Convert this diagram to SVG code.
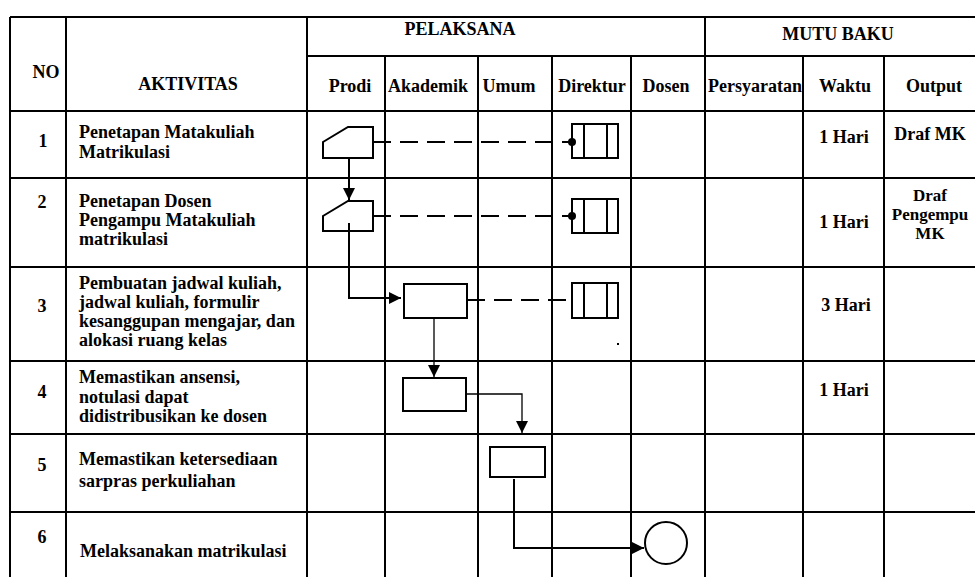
<svg xmlns="http://www.w3.org/2000/svg" width="975" height="577" viewBox="0 0 975 577">
<defs>
<style>
.g{stroke:#000;stroke-width:2;fill:none}
.t{font-family:"Liberation Serif","Times New Roman",serif;font-weight:bold;font-size:18px;fill:#000}
.c{text-anchor:middle}
.sm{font-size:17px}
.s{stroke:#000;stroke-width:2;fill:#fff}
.k{stroke:#000;stroke-width:2;fill:none}
.n{stroke:#000;stroke-width:1.3;fill:none}
.d{stroke:#000;stroke-width:2;fill:none;stroke-dasharray:18 9}
</style>
<marker id="ah" markerWidth="12" markerHeight="12" refX="12" refY="6" orient="auto" markerUnits="userSpaceOnUse"><path d="M0,0 L12,6 L0,12 z" fill="#000"/></marker>
</defs>
<rect width="975" height="577" fill="#fff"/>
<g id="table" class="g">
<path d="M10,17 H975 M307,56 H975 M10,111 H975 M10,178 H975 M10,267 H975 M10,361 H975 M10,434 H975 M10,512 H975"/>
<path d="M10,17 V577 M66,17 V577 M307,17 V577 M705,17 V577 M385,56 V577 M478,56 V577 M552,56 V577 M631,56 V577 M803,56 V577 M884,56 V577"/>
</g>
<g id="headers" class="t">
<text x="46" y="78" class="c">NO</text>
<text x="188" y="90" class="c">AKTIVITAS</text>
<text x="460" y="35" class="c">PELAKSANA</text>
<text x="838" y="40" class="c">MUTU BAKU</text>
<text x="350" y="92" class="c">Prodi</text>
<text x="428" y="92" class="c">Akademik</text>
<text x="509" y="92" class="c">Umum</text>
<text x="592" y="92" class="c">Direktur</text>
<text x="666" y="92" class="c">Dosen</text>
<text x="755" y="92" class="c">Persyaratan</text>
<text x="845" y="92" class="c">Waktu</text>
<text x="934" y="92" class="c">Output</text>
</g>
<g id="row1" class="t">
<text x="43" y="147" class="c">1</text>
<text x="79" y="138">Penetapan Matakuliah</text>
<text x="79" y="158">Matrikulasi</text>
<text x="844" y="143" class="c">1 Hari</text>
<text x="930" y="140" class="c">Draf MK</text>
</g>
<g id="row2" class="t">
<text x="42" y="208" class="c">2</text>
<text x="79" y="207">Penetapan Dosen</text>
<text x="79" y="226">Pengampu Matakuliah</text>
<text x="79" y="245">matrikulasi</text>
<text x="844" y="228" class="c">1 Hari</text>
<text x="930" y="201" class="c sm">Draf</text>
<text x="930" y="220" class="c sm">Pengempu</text>
<text x="930" y="239" class="c sm">MK</text>
</g>
<g id="row3" class="t">
<text x="42" y="312" class="c">3</text>
<text x="79" y="289">Pembuatan jadwal kuliah,</text>
<text x="79" y="308">jadwal kuliah, formulir</text>
<text x="79" y="327">kesanggupan mengajar, dan</text>
<text x="79" y="346">alokasi ruang kelas</text>
<text x="846" y="311" class="c">3 Hari</text>
</g>
<g id="row4" class="t">
<text x="42" y="398" class="c">4</text>
<text x="79" y="383">Memastikan ansensi,</text>
<text x="79" y="403">notulasi dapat</text>
<text x="79" y="422">didistribusikan ke dosen</text>
<text x="844" y="396" class="c">1 Hari</text>
</g>
<g id="row5" class="t">
<text x="42" y="471" class="c">5</text>
<text x="79" y="465">Memastikan ketersediaan</text>
<text x="79" y="487">sarpras perkuliahan</text>
</g>
<g id="row6" class="t">
<text x="42" y="543" class="c">6</text>
<text x="80" y="557">Melaksanakan matrikulasi</text>
</g>
<g id="connectors">
<path class="d" d="M373,142 H572"/>
<path class="d" d="M373,216 H572"/>
<path class="d" d="M467,300 H572"/>
<circle cx="572" cy="142" r="4" fill="#000"/>
<circle cx="572" cy="216" r="4" fill="#000"/>
<path class="k" d="M349,158 V200" marker-end="url(#ah)"/>
<path class="k" d="M349,223 V298 H401" marker-end="url(#ah)"/>
<path class="n" d="M434,318 V377" marker-end="url(#ah)"/>
<path class="n" d="M466,394 H522 V433" marker-end="url(#ah)"/>
<path class="k" d="M514,479 V548 H644" marker-end="url(#ah)"/>
</g>
<g id="prodi1"><path class="s" d="M323,142 L348,127 H373 V158 H323 Z"/></g>
<g id="prodi2"><path class="k" d="M323,216 L348,201 H373 V231 H323 Z"/></g>
<g id="direktur1"><rect class="k" x="572" y="124" width="46" height="34"/><path class="k" d="M584,124 V158 M607,124 V158"/></g>
<g id="direktur2"><rect class="k" x="572" y="199" width="46" height="34"/><path class="k" d="M584,199 V233 M607,199 V233"/></g>
<g id="akademik3"><rect class="s" x="404" y="284" width="63" height="34"/></g>
<g id="direktur3"><rect class="s" x="572" y="283" width="46" height="35"/><path class="k" d="M584,283 V318 M607,283 V318"/><rect x="617" y="343" width="2" height="2" fill="#000"/></g>
<g id="akademik4"><rect class="s" x="403" y="378" width="63" height="33"/></g>
<g id="umum5"><rect class="s" x="490" y="447" width="55" height="30"/></g>
<g id="dosen6"><circle class="s" cx="666" cy="543" r="21"/></g>
</svg>
